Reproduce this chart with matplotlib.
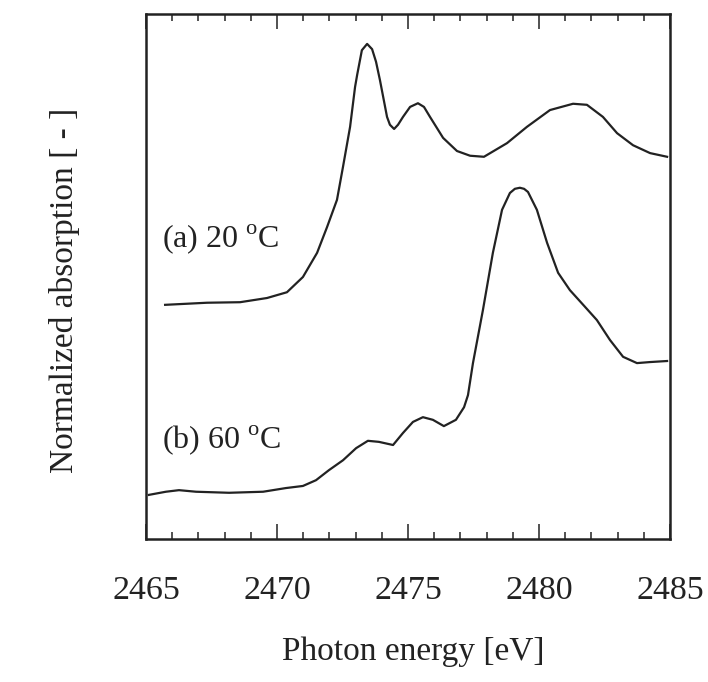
import numpy as np
import matplotlib
matplotlib.use("Agg")
import matplotlib.pyplot as plt

# =============================================================================
# data (energy in eV, absorption in axis units)
# =============================================================================
energy_20 = [2465.73, 2467.33, 2468.59, 2469.62, 2470.38, 2470.99, 2471.53, 2471.91,
             2472.29, 2472.52, 2472.79, 2472.98, 2473.06, 2473.24, 2473.44, 2473.63,
             2473.78, 2473.93, 2474.20, 2474.31, 2474.47, 2474.62, 2474.81, 2475.08,
             2475.38, 2475.61, 2475.84, 2476.34, 2476.87, 2477.37, 2477.90, 2478.78,
             2479.54, 2480.42, 2481.30, 2481.83, 2482.44, 2482.98, 2483.59, 2484.24,
             2484.89]
absorb_20 = [0.446, 0.450, 0.451, 0.459, 0.470, 0.499, 0.545, 0.594,
             0.646, 0.709, 0.785, 0.861, 0.884, 0.931, 0.943, 0.933,
             0.909, 0.874, 0.804, 0.789, 0.781, 0.789, 0.804, 0.823,
             0.830, 0.823, 0.804, 0.764, 0.739, 0.730, 0.728, 0.754,
             0.785, 0.817, 0.829, 0.827, 0.804, 0.773, 0.750, 0.735,
             0.728]

energy_60 = [2465.11, 2465.76, 2466.26, 2466.91, 2468.17, 2469.47, 2470.34, 2470.99,
             2471.49, 2471.98, 2472.52, 2473.02, 2473.47, 2473.89, 2474.43, 2474.81,
             2475.19, 2475.57, 2475.95, 2476.37, 2476.83, 2477.14, 2477.29, 2477.48,
             2477.86, 2478.24, 2478.59, 2478.89, 2479.08, 2479.27, 2479.43, 2479.58,
             2479.92, 2480.31, 2480.73, 2481.18, 2481.76, 2482.21, 2482.71, 2483.21,
             2483.74, 2484.24, 2484.89]
absorb_60 = [0.084, 0.090, 0.093, 0.090, 0.088, 0.090, 0.097, 0.101,
             0.112, 0.131, 0.150, 0.173, 0.187, 0.185, 0.179, 0.202,
             0.223, 0.232, 0.227, 0.215, 0.227, 0.251, 0.274, 0.335,
             0.436, 0.545, 0.627, 0.659, 0.667, 0.669, 0.667, 0.661,
             0.627, 0.564, 0.507, 0.474, 0.442, 0.417, 0.379, 0.347,
             0.335, 0.337, 0.339]

labels = [r'(a) 20 $^{\mathrm{o}}$C', r'(b) 60 $^{\mathrm{o}}$C']
label_pos = [(2465.6, 0.556), (2465.6, 0.173)]
xticks = [2465, 2470, 2475, 2480, 2485]

# =============================================================================
# plot
# =============================================================================
plt.rcParams['font.family'] = ['Liberation Serif', 'DejaVu Serif']
plt.rcParams['mathtext.fontset'] = 'custom'
plt.rcParams['mathtext.rm'] = 'Liberation Serif'

fig = plt.figure(figsize=(7.08, 6.82), dpi=100)
ax = fig.add_axes([0.2062, 0.2097, 0.7401, 0.7698])

ax.plot(energy_20, absorb_20, color='#222222', lw=1.6)
ax.plot(energy_60, absorb_60, color='#222222', lw=1.6)

for txt, (x, y) in zip(labels, label_pos):
    ax.text(x, y, txt, fontsize=23, va='baseline', ha='left', color='#222222')

ax.set_xlim(2465, 2485)
ax.set_ylim(0, 1)
ax.set_xticks(xticks)
ax.set_xticks(np.arange(2465, 2486, 1), minor=True)
ax.set_yticks([])
ax.tick_params(axis='x', which='both', direction='in', top=True, bottom=True,
               labelsize=24.5, pad=26, width=1.1, color='#222222', labelcolor='#222222')
ax.tick_params(axis='x', which='major', length=11)
ax.tick_params(axis='x', which='minor', length=5)
for s in ax.spines.values():
    s.set_linewidth(1.8)
    s.set_color('#222222')

ax.set_xlabel('Photon energy [eV]', fontsize=24, color='#222222')
ax.set_ylabel('Normalized absorption [ - ]', fontsize=24, color='#222222')
ax.xaxis.set_label_coords(0.51, -0.185)
ax.yaxis.set_label_coords(-0.126, 0.474)

fig.savefig('out.png', dpi=100, facecolor='white')
